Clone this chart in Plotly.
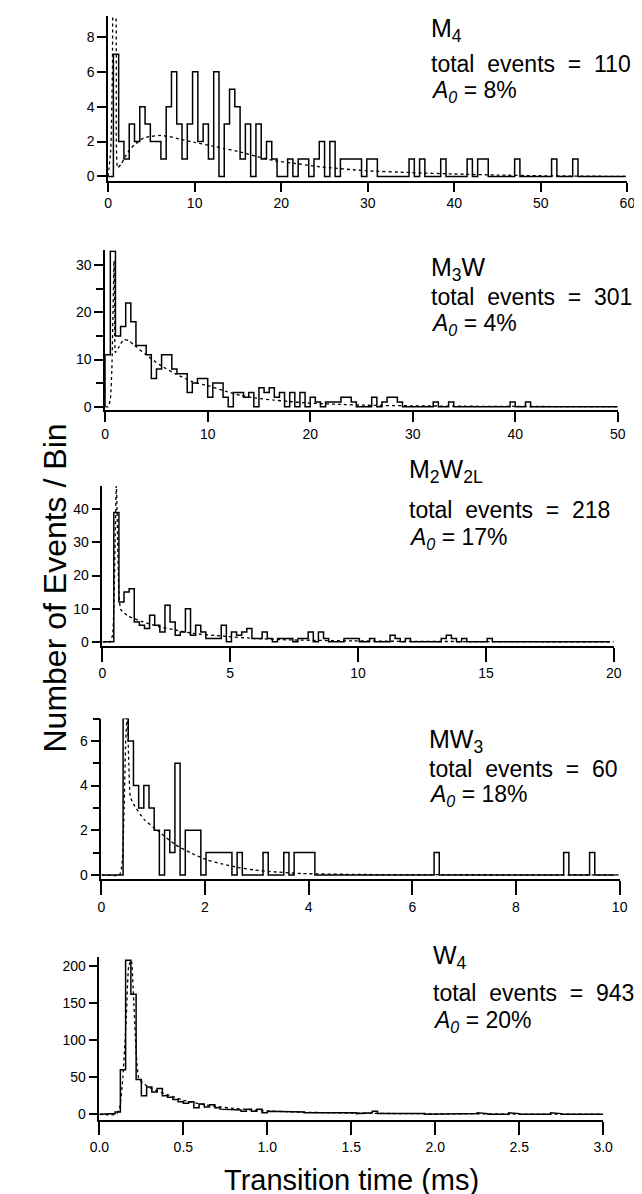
import plotly.graph_objects as go

W, H = 642, 1194

# ---------------- data ----------------
# Panel M4 : bins of 0.61 ms starting at 0
m4_start, m4_width = 0.0, 0.61
m4_counts = [0, 7, 2, 1, 3, 2, 4, 3, 2, 2, 1, 4, 6, 3, 1, 3, 6, 2, 3, 1,
             6, 0, 3, 5, 4, 1, 3, 0, 3, 1, 2, 1, 0, 0, 1, 0, 1, 1, 0, 1,
             2, 0, 2, 0, 1, 1, 1, 1, 0, 1, 1, 0, 0, 0, 0, 0, 0, 1, 0, 1,
             0, 0, 0, 1, 0, 0, 0, 0, 1, 0, 1, 1, 0, 0, 0, 0, 0, 1, 0, 0,
             0, 0, 0, 0, 1, 0, 0, 0, 1, 0, 0, 0, 0, 0, 0, 0, 0, 0]
m4_fit_t = [0, 0.3, 0.5, 0.65, 0.8, 0.95, 1.1, 1.5, 2.3, 3.0, 4.1, 5.0, 6.0, 7.0,
            8.2, 10.0, 12.0, 13.4, 15.3, 17.1, 19.3, 22.3, 24.5, 29.7, 35, 40, 45, 50, 60]
m4_fit_y = [0, 1.5, 6, 10.5, 10.5, 2.0, 0.5, 0.7, 1.4, 1.8, 2.2, 2.3, 2.35, 2.3,
            2.15, 1.95, 1.75, 1.6, 1.4, 1.15, 0.9, 0.7, 0.55, 0.33, 0.22, 0.14, 0.08, 0.04, 0.0]
m4_xticks = [0, 10, 20, 30, 40, 50, 60]
m4_yticks = [0, 2, 4, 6, 8]

# Panel M3W : bins of 0.5 ms
m3w_start, m3w_width = 0.0, 0.5
m3w_counts = [11, 33, 15, 17, 22, 18, 13, 13, 11, 6, 8, 11, 11, 8, 7, 7, 3, 5, 6, 6,
              2, 5, 5, 2, 0, 3, 3, 2, 3, 0, 4, 3, 4, 2, 3, 0, 3, 0, 3, 0,
              2, 1, 0, 1, 1, 1, 2, 2, 1, 0, 0, 0, 2, 0, 1, 2, 2, 1, 0, 0,
              0, 0, 0, 0, 1, 0, 0, 1, 0, 0, 0, 0, 0, 0, 0, 0, 0, 0, 0, 1,
              0, 0, 1, 0, 0, 0, 0, 0, 0, 0, 0, 0, 0, 0, 0, 0, 0, 0, 0, 0]
m3w_fit_t = [0, 0.3, 0.5, 0.65, 0.78, 0.86, 0.93, 1.0, 1.3, 1.8, 2.3, 2.8, 4.0, 5.3,
             6.9, 8.5, 10.1, 11.7, 13.2, 14.8, 16.4, 18.0, 19.6, 22.8, 25.6, 30, 35, 40, 50]
m3w_fit_y = [0, 0, 1.5, 8, 22, 31, 20, 11.5, 12.5, 14.2, 14.0, 13.1, 11.0, 8.9,
             6.9, 5.3, 4.4, 3.3, 2.4, 1.8, 1.4, 1.1, 0.8, 0.5, 0.3, 0.18, 0.1, 0.05, 0.0]
m3w_xticks = [0, 10, 20, 30, 40, 50]
m3w_yticks = [0, 10, 20, 30]

# Panel M2W2L : bins of 0.2 ms starting at 0.05
m2w2l_start, m2w2l_width = 0.05, 0.2
m2w2l_counts = [0, 0, 39, 12, 15, 16, 6, 5, 4, 8, 5, 3, 11, 6, 2, 3, 10, 2, 5, 3,
                1, 1, 1, 5, 0, 3, 2, 3, 4, 1, 1, 3, 1, 0, 1, 1, 1, 0, 1, 1,
                3, 0, 3, 1, 0, 0, 0, 1, 1, 1, 0, 0, 1, 0, 0, 0, 2, 1, 0, 1,
                0, 0, 0, 0, 0, 0, 1, 2, 1, 0, 1, 0, 0, 0, 0, 1, 0, 0, 0, 0,
                0, 0, 0, 0, 0, 0, 0, 0, 0, 0, 0, 0, 0, 0, 0, 0, 0, 0, 0]
m2w2l_fit_t = [0, 0.3, 0.4, 0.46, 0.5, 0.55, 0.6, 0.65, 0.72, 1.0, 1.6, 2.2, 2.9, 3.5,
               4.75, 6.0, 7.3, 9.8, 12, 15, 20]
m2w2l_fit_y = [0, 0, 2, 12, 30, 48, 30, 15, 9.8, 7.8, 6.0, 4.6, 3.5, 2.6,
               1.7, 1.0, 0.6, 0.3, 0.15, 0.08, 0.0]
m2w2l_xticks = [0, 5, 10, 15, 20]
m2w2l_yticks = [0, 10, 20, 30, 40]

# Panel MW3 : bins of 0.1 ms starting at 0.02
mw3_start, mw3_width = 0.02, 0.1
mw3_counts = [0, 0, 0, 0, 7, 6, 4, 3, 4, 3, 2, 0, 2, 1, 5, 0, 2, 2, 2, 0,
              1, 1, 1, 1, 1, 0, 1, 0, 0, 0, 0, 1, 0, 0, 0, 1, 0, 1, 1, 1,
              1, 0, 0, 0, 0, 0, 0, 0, 0, 0, 0, 0, 0, 0, 0, 0, 0, 0, 0, 0,
              0, 0, 0, 0, 1, 0, 0, 0, 0, 0, 0, 0, 0, 0, 0, 0, 0, 0, 0, 0,
              0, 0, 0, 0, 0, 0, 0, 0, 0, 1, 0, 0, 0, 0, 1, 0, 0, 0, 0]
mw3_fit_t = [0, 0.35, 0.4, 0.44, 0.47, 0.5, 0.53, 0.56, 0.64, 0.82, 1.13, 1.43, 1.74,
             2.04, 2.35, 2.65, 2.96, 3.26, 3.87, 5.0, 10]
mw3_fit_y = [0, 0, 0.5, 3.0, 6.0, 7.2, 5.0, 3.5, 3.1, 2.5, 1.9, 1.35, 0.97,
             0.67, 0.48, 0.33, 0.22, 0.15, 0.06, 0.02, 0.0]
mw3_xticks = [0, 2, 4, 6, 8, 10]
mw3_yticks = [0, 2, 4, 6]

# Panel W4 : bins of 1/32 ms
w4_start, w4_width = 0.0, 0.03125
w4_counts = [0, 0, 1, 3, 60, 208, 162, 47, 25, 37, 30, 35, 25, 23, 20, 17, 15, 17, 9, 14,
             10, 13, 9, 7, 7, 6, 6, 4, 7, 4, 7, 2, 4, 4, 4, 3, 4, 3, 3, 2,
             3, 2, 2, 3, 2, 2, 3, 2, 2, 1, 2, 2, 4, 1, 2, 1, 1, 2, 1, 1,
             1, 1, 0, 1, 1, 1, 0, 1, 1, 0, 1, 1, 2, 1, 0, 1, 0, 0, 2, 1,
             0, 1, 0, 0, 1, 0, 2, 1, 0, 1, 0, 0, 1, 0, 0, 0]
w4_fit_t = [0, 0.1, 0.12, 0.14, 0.16, 0.175, 0.19, 0.205, 0.22, 0.235, 0.26, 0.3, 0.35,
            0.4, 0.45, 0.5, 0.6, 0.7, 0.8, 0.9, 1.0, 1.2, 1.4, 1.6, 1.8, 2.0, 2.5, 3.0]
w4_fit_y = [0, 0, 8, 50, 130, 200, 208, 150, 80, 48, 42, 36, 31,
            27, 23, 19, 14, 10.5, 8, 6, 4.5, 3, 2, 1.4, 1.0, 0.7, 0.35, 0.2]
w4_xticks = [0.0, 0.5, 1.0, 1.5, 2.0, 2.5, 3.0]
w4_xticktext = ["0.0", "0.5", "1.0", "1.5", "2.0", "2.5", "3.0"]
w4_yticks = [0, 50, 100, 150, 200]

names = ["M<sub>4</sub>", "M<sub>3</sub>W", "M<sub>2</sub>W<sub>2L</sub>",
         "MW<sub>3</sub>", "W<sub>4</sub>"]
totals = [110, 301, 218, 60, 943]
a0_pct = [8, 4, 17, 18, 20]

# ---------------- layout geometry (pixels) ----------------
panels = [
    dict(start=m4_start, width=m4_width, counts=m4_counts, ft=m4_fit_t, fy=m4_fit_y,
         xr=[0, 60], yr=[-0.25, 9.2], xt=m4_xticks, xtt=None, yt=m4_yticks, minor=None,
         px=(93, 629), py=(8, 173.4), tl=9, text=(424, 22, 56, 84)),
    dict(start=m3w_start, width=m3w_width, counts=m3w_counts, ft=m3w_fit_t, fy=m3w_fit_y,
         xr=[0, 50], yr=[-0.8, 33.2], xt=m3w_xticks, xtt=None, yt=m3w_yticks, minor=5,
         px=(90, 619), py=(243, 403.8), tl=10, text=(424, 262, 290, 318)),
    dict(start=m2w2l_start, width=m2w2l_width, counts=m2w2l_counts, ft=m2w2l_fit_t, fy=m2w2l_fit_y,
         xr=[0, 20], yr=[-1.2, 47], xt=m2w2l_xticks, xtt=None, yt=m2w2l_yticks, minor=None,
         px=(87, 615), py=(479.5, 640), tl=14, text=(402, 465, 504, 532)),
    dict(start=mw3_start, width=mw3_width, counts=mw3_counts, ft=mw3_fit_t, fy=mw3_fit_y,
         xr=[0, 10], yr=[-0.2, 7.0], xt=mw3_xticks, xtt=None, yt=mw3_yticks, minor=1,
         px=(86, 621), py=(713, 874.3), tl=14, text=(422, 735, 764, 790)),
    dict(start=w4_start, width=w4_width, counts=w4_counts, ft=w4_fit_t, fy=w4_fit_y,
         xr=[0, 3], yr=[-8, 212], xt=w4_xticks, xtt=w4_xticktext, yt=w4_yticks, minor=None,
         px=(84, 604), py=(952.4, 1116), tl=13, text=(426, 952, 988, 1017)),
]

FONT = "Liberation Sans, Arial, sans-serif"
fig = go.Figure()
layout = dict(width=W, height=H, margin=dict(l=0, r=0, t=0, b=0),
              paper_bgcolor="white", plot_bgcolor="white", showlegend=False,
              font=dict(family=FONT, color="black"))
annotations = []

for i, p in enumerate(panels):
    n = i + 1
    xa = "x" if n == 1 else f"x{n}"
    ya = "y" if n == 1 else f"y{n}"
    # step histogram from counts
    xs, ys = [p["start"]], [0]
    for k, c in enumerate(p["counts"]):
        x0 = p["start"] + k * p["width"]
        xs += [x0, x0 + p["width"]]
        ys += [c, c]
    xs.append(xs[-1]); ys.append(0)
    fig.add_trace(go.Scatter(x=xs, y=ys, mode="lines", xaxis=xa, yaxis=ya,
                             line=dict(color="black", width=1.5), hoverinfo="skip"))
    fig.add_trace(go.Scatter(x=p["ft"], y=p["fy"], mode="lines", xaxis=xa, yaxis=ya,
                             line=dict(color="black", width=1.3, dash="dot", shape="spline", smoothing=0.5),
                             hoverinfo="skip"))
    xkey = "xaxis" if n == 1 else f"xaxis{n}"
    ykey = "yaxis" if n == 1 else f"yaxis{n}"
    xaxis = dict(domain=[p["px"][0] / W, p["px"][1] / W], range=p["xr"], anchor=ya,
                 showline=True, linecolor="black", linewidth=1.5, ticks="outside",
                 ticklen=p["tl"], tickwidth=1.5, tickcolor="black", tickvals=p["xt"],
                 showgrid=False, zeroline=False, tickfont=dict(family=FONT, size=14, color="black"))
    if p["xtt"] is not None:
        xaxis["ticktext"] = p["xtt"]
    yaxis = dict(domain=[1 - p["py"][1] / H, 1 - p["py"][0] / H], range=p["yr"], anchor=xa,
                 showline=True, linecolor="black", linewidth=1.5, ticks="outside",
                 ticklen=9, tickwidth=1.5, tickcolor="black", tickvals=p["yt"],
                 showgrid=False, zeroline=False, tickfont=dict(family=FONT, size=14, color="black"))
    if p["minor"] is not None:
        yaxis["minor"] = dict(ticks="outside", ticklen=7, tickwidth=1.5, tickcolor="black",
                              dtick=p["minor"], tick0=0, showgrid=False)
    layout[xkey] = xaxis
    layout[ykey] = yaxis
    tx, y1, y2, y3 = p["text"]
    annotations.append(dict(x=tx / W, y=1 - y1 / H, xref="paper", yref="paper", xanchor="left",
                            yanchor="middle", showarrow=False, text=names[i],
                            font=dict(family=FONT, size=25, color="black")))
    annotations.append(dict(x=tx / W, y=1 - y2 / H, xref="paper", yref="paper", xanchor="left",
                            yanchor="middle", showarrow=False,
                            text=f"total  events  =  {totals[i]}",
                            font=dict(family=FONT, size=23, color="black")))
    annotations.append(dict(x=tx / W, y=1 - y3 / H, xref="paper", yref="paper", xanchor="left",
                            yanchor="middle", showarrow=False,
                            text=f"<i>A<sub>0</sub></i> = {a0_pct[i]}%",
                            font=dict(family=FONT, size=23, color="black")))

annotations.append(dict(x=18 / W, y=1 - 582 / H, xref="paper", yref="paper", textangle=-90,
                        showarrow=False, text="Number of Events / Bin",
                        font=dict(family=FONT, size=32, color="black")))
annotations.append(dict(x=344 / W, y=0, xref="paper", yref="paper", yanchor="bottom",
                        showarrow=False, text="Transition time (ms)",
                        font=dict(family=FONT, size=29, color="black")))
layout["annotations"] = annotations
fig.update_layout(**layout)
fig.write_html("out.html")
